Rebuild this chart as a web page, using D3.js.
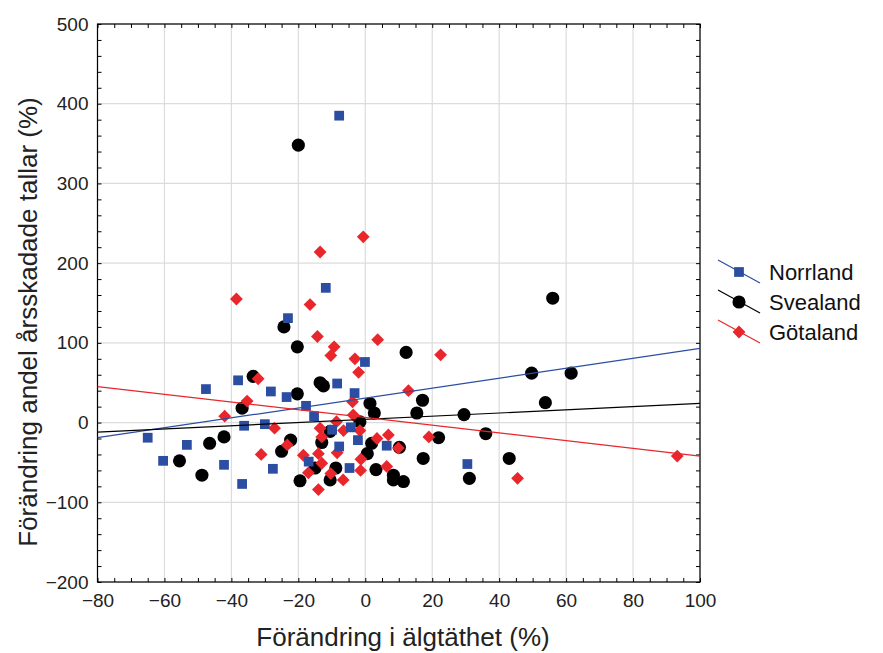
<!DOCTYPE html>
<html><head><meta charset="utf-8">
<script src="https://cdn.jsdelivr.net/npm/d3@7"></script>
<style>
body{margin:0;background:#fff;}
svg{font-family:"Liberation Sans",Arial,sans-serif;}
</style></head>
<body><svg id="c" width="883" height="653"></svg>
<script>
const seriesNames = ["Norrland","Svealand","Götaland"];
const seriesColors = ["#2b4ea2","#000000","#e8262b"];
const xTicks = [-80,-60,-40,-20,0,20,40,60,80,100];
const yTicks = [-200,-100,0,100,200,300,400,500];

const norrland = [[-65,-19],[-60.4,-48],[-53.3,-28],[-47.6,42],[-42.2,-53],[-38,53],[-36.2,-4],[-36.8,-77],[-30,-2],[-28.2,39],[-27.6,-58],[-23.5,32],[-23.1,131],[-11.8,169],[-7.8,385],[-17.7,21],[-15.3,8],[-8.4,49],[-3.2,37],[-0.1,76],[-9.9,-9],[-4.3,-6],[-2.2,-22],[-7.8,-30],[-16.9,-49],[-4.7,-57],[6.4,-29],[30.5,-52]];
const svealand = [[-55.5,-48],[-48.8,-66],[-46.5,-26],[-42.2,-18],[-36.8,18],[-33.5,58],[-24.3,120],[-20.3,95],[-20.3,36],[-22.3,-22],[-25,-36],[-19.5,-73],[-20,348],[-13.5,50],[-12.5,46],[-13,-25],[-10.5,-11],[-15,-57],[-10.5,-72],[-8.8,-57],[-1.6,1],[1.4,24],[2.7,12],[1.9,-26],[0.6,-39],[3.2,-59],[8.4,-66],[8.4,-72],[11.4,-74],[10.2,-31],[12.2,88],[17.1,28],[15.4,12],[17.3,-45],[21.9,-19],[29.5,10],[31.1,-70],[36,-14],[43,-45],[49.7,62],[53.8,25],[61.5,62],[56,156]];
const gotaland = [[-38.5,155],[-32,55],[-35.3,27],[-42,8],[-27.1,-7],[-31.1,-40],[-23.3,-28],[-13.5,214],[-0.6,233],[-16.5,148],[-14.3,108],[-9.3,95],[-10.3,84],[-3.1,80],[-2,63],[3.7,104],[22.5,85],[12.9,40],[-3.8,26],[-3.6,9.5],[-1.6,-10],[-8.6,1],[-13.5,-7],[-6.5,-10],[-13,-18],[3.5,-20],[6.9,-15.5],[9.9,-32],[19,-18],[-18.5,-41],[-14,-39],[-13,-51],[-8.4,-38],[-1.3,-46],[-1.4,-60],[6.4,-55],[-17,-63],[-10.3,-64],[-6.6,-72],[-14,-84],[45.5,-70],[93.2,-42]];
// fitted lines: [x, y] at both ends
const fitNorrland = [[-80,-19],[100,93]];
const fitSvealand = [[-80,-12],[100,24]];
const fitGotaland = [[-80,45],[100,-42]];

const svg = d3.select("#c");
const L=97.5, R=700, T=24, B=582;
const x = d3.scaleLinear().domain([-80,100]).range([L,R]);
const y = d3.scaleLinear().domain([-200,500]).range([B,T]);

// grid
const g = svg.append("g");
g.selectAll(".gx").data(xTicks).join("line")
 .attr("x1",d=>x(d)).attr("x2",d=>x(d)).attr("y1",T).attr("y2",B)
 .attr("stroke","#dcdcdc").attr("stroke-width",1.2);
g.selectAll(".gy").data(yTicks).join("line")
 .attr("y1",d=>y(d)).attr("y2",d=>y(d)).attr("x1",L).attr("x2",R)
 .attr("stroke","#dcdcdc").attr("stroke-width",1.2);

const xMinor = d3.range(-80,100.1,5);
const yMinor = d3.range(-200,500.1,20);
function axisStyle(sel){sel.select(".domain").remove();sel.selectAll("line").attr("stroke","#000");}
svg.append("g").attr("transform",`translate(0,${B})`).call(d3.axisBottom(x).tickValues(xMinor).tickSize(-4).tickFormat("")).call(axisStyle);
svg.append("g").attr("transform",`translate(0,${T})`).call(d3.axisTop(x).tickValues(xMinor).tickSize(-4).tickFormat("")).call(axisStyle);
svg.append("g").attr("transform",`translate(${L},0)`).call(d3.axisLeft(y).tickValues(yMinor).tickSize(-4).tickFormat("")).call(axisStyle);
svg.append("g").attr("transform",`translate(${R},0)`).call(d3.axisRight(y).tickValues(yMinor).tickSize(-4).tickFormat("")).call(axisStyle);

// labels
const xa = svg.append("g").attr("transform",`translate(0,${B})`).call(d3.axisBottom(x).tickValues(xTicks).tickSize(0).tickPadding(12).tickFormat(d3.format("d")));
xa.select(".domain").remove();
xa.selectAll("text").attr("font-size",19).attr("fill","#222").attr("font-family","Liberation Sans, Arial, sans-serif");
const ya = svg.append("g").attr("transform",`translate(${L},0)`).call(d3.axisLeft(y).tickValues(yTicks).tickSize(0).tickPadding(9).tickFormat(d3.format("d")));
ya.select(".domain").remove();
ya.selectAll("text").attr("font-size",19).attr("fill","#222").attr("font-family","Liberation Sans, Arial, sans-serif");

// frame
svg.append("rect").attr("x",L).attr("y",T).attr("width",R-L).attr("height",B-T)
 .attr("fill","none").attr("stroke","#000").attr("stroke-width",1.2);

// markers
const sym = [d3.symbolSquare, d3.symbolCircle, d3.symbolSquare];
const symSize = [95, 135, 82];
function drawPts(data, i){
  svg.append("g").selectAll("path").data(data).join("path")
   .attr("transform",d=>`translate(${x(d[0])},${y(d[1])})`+(i===2?" rotate(45)":""))
   .attr("d",d3.symbol().type(sym[i]).size(symSize[i]))
   .attr("fill",seriesColors[i]);
}
drawPts(svealand,1);
drawPts(gotaland,2);
drawPts(norrland,0);

const fits=[fitNorrland,fitSvealand,fitGotaland];
const line = d3.line().x(d=>x(d[0])).y(d=>y(d[1]));
fits.forEach((f,i)=>{
  svg.append("path").attr("d",line(f)).attr("stroke",seriesColors[i]).attr("stroke-width",1.2).attr("fill","none");
});

// legend
const lg = svg.append("g");
seriesNames.forEach((n,i)=>{
  const cy = 272 + i*30;
  lg.append("line").attr("x1",718).attr("y1",cy-12).attr("x2",760).attr("y2",cy+11)
    .attr("stroke",seriesColors[i]).attr("stroke-width",1.2);
  lg.append("path").attr("transform",`translate(739,${cy})`+(i===2?" rotate(45)":""))
    .attr("d",d3.symbol().type(sym[i]).size(symSize[i])).attr("fill",seriesColors[i]);
  lg.append("text").attr("x",769).attr("y",cy+8).attr("font-size",22).attr("fill","#111").text(n);
});

svg.append("text").attr("x",403).attr("y",646).attr("text-anchor","middle")
 .attr("font-size",26).attr("fill","#222").text("Förändring i älgtäthet (%)");
svg.append("text").attr("transform","translate(37,322) rotate(-90)").attr("text-anchor","middle")
 .attr("font-size",26).attr("fill","#222").text("Förändring andel årsskadade tallar (%)");
</script></body></html>
